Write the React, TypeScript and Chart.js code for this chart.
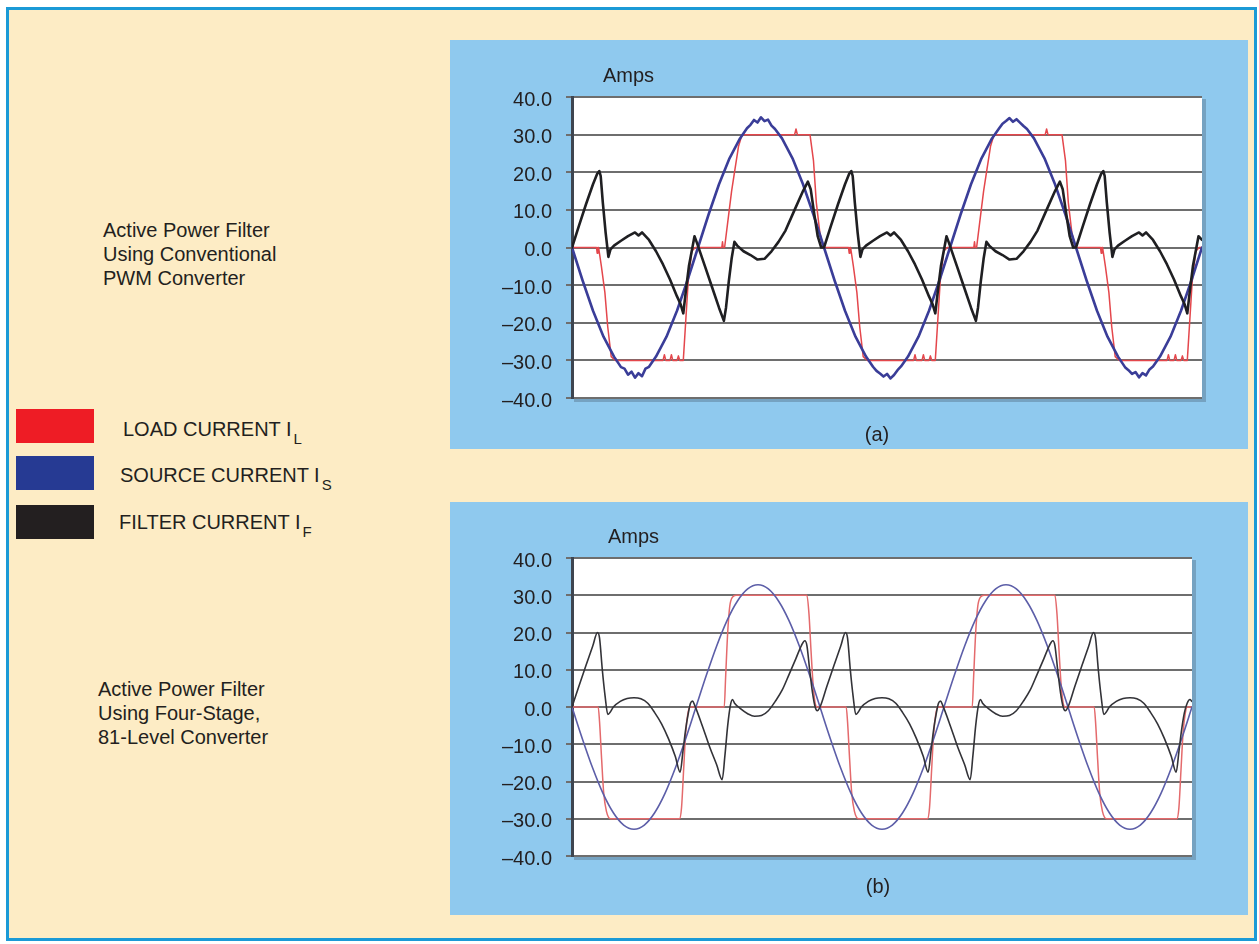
import React, { useEffect, useRef } from "react";
import { Chart, registerables } from "chart.js";

Chart.register(...registerables);

const FONT = '"Liberation Sans", Arial, Helvetica, sans-serif';

// ---------- axis definitions ----------
const yTickValues = [-40, -30, -20, -10, 0, 10, 20, 30, 40];
const xRangeDeg = [0, 900]; // phase angle, 2.5 cycles

type Pt = [number, number];

// ---------- (a) conventional PWM converter : [phase deg, amps] ----------
const aLoad: Pt[] = [
  [0, 0], [35, 0], [36, -1.5], [37, 0], [38, 0], [42, -5], [47, -12], [51, -21], [56, -29], [62, -30],
  [130, -30], [132, -28.5], [134, -30], [140, -30], [142, -28.5], [144, -30], [150, -30], [152, -28.8], [154, -30], [159, -30],
  [162, -21], [166, -9], [171, -1], [176, 0],
  [214, 0], [215, 1.5], [216, 0], [218, 0], [222, 6], [228, 15], [233, 21], [238, 27], [243, 30],
  [318, 30], [320, 31.5], [322, 30], [340, 30], [345, 23], [349, 12], [354, 4], [359, 0],
  [395, 0], [396, -1.5], [397, 0], [398, 0], [402, -5], [407, -12], [411, -21], [416, -29], [422, -30],
  [488, -30], [490, -28.5], [492, -30], [500, -30], [502, -28.5], [504, -30], [510, -30], [512, -28.8], [514, -30], [519, -30],
  [522, -21], [526, -9], [531, -1], [536, 0],
  [574, 0], [575, 1.5], [576, 0], [578, 0], [582, 6], [588, 15], [593, 21], [598, 27], [603, 30],
  [676, 30], [678, 31.5], [680, 30], [700, 30], [705, 23], [709, 12], [714, 4], [719, 0],
  [755, 0], [756, -1.5], [757, 0], [758, 0], [762, -5], [767, -12], [771, -21], [776, -29], [782, -30],
  [850, -30], [852, -28.5], [854, -30], [860, -30], [862, -28.5], [864, -30], [870, -30], [872, -28.8], [874, -30], [879, -30],
  [882, -21], [886, -9], [891, -1], [896, 0], [900, 0],
];

const aSource: Pt[] = [
  [0, 0], [15, -8.7], [30, -16.8], [45, -23.7], [60, -29.0], [70, -31.8], [75, -32.2], [80, -33.8], [85, -33.0], [90, -34.6],
  [95, -33.4], [100, -34.2], [105, -32.2], [110, -31.7], [120, -29.0], [135, -23.7], [150, -16.8], [165, -8.7], [180, 0],
  [195, 8.7], [210, 16.8], [225, 23.7], [240, 29.0], [250, 31.7], [255, 32.6], [260, 33.9], [265, 33.2], [270, 34.6],
  [275, 33.6], [280, 34.0], [285, 32.4], [290, 31.5], [300, 29.0], [315, 23.7], [330, 16.8], [345, 8.7],
  [360, 0], [375, -8.7], [390, -16.8], [405, -23.7], [420, -29.0], [430, -31.7], [435, -32.8], [440, -33.5], [445, -34.3],
  [450, -33.6], [455, -34.8], [460, -33.9], [465, -32.6], [470, -31.6], [480, -29.0], [495, -23.7], [510, -16.8], [525, -8.7],
  [540, 0], [555, 8.7], [570, 16.8], [585, 23.7], [600, 29.0], [610, 31.6], [615, 32.9], [620, 33.6], [625, 34.4],
  [630, 33.4], [635, 34.1], [640, 33.2], [645, 32.3], [650, 31.5], [660, 29.0], [675, 23.7], [690, 16.8], [705, 8.7],
  [720, 0], [735, -8.7], [750, -16.8], [765, -23.7], [780, -29.0], [790, -31.8], [795, -32.6], [800, -33.6], [805, -33.1],
  [810, -34.5], [815, -33.4], [820, -34.0], [825, -32.4], [830, -31.6], [840, -29.0], [855, -23.7], [870, -16.8], [885, -8.7],
  [900, 0],
];

const aFilter: Pt[] = [
  [0, 0], [10, 5.8], [20, 11.5], [30, 16.8], [36, 19.6], [39, 20.3], [41, 19], [44, 12], [48, 4], [52, -2.5], [55, -0.5],
  [60, 0.5], [70, 1.8], [80, 3], [90, 4], [95, 3.2], [100, 4], [110, 2], [120, -1], [130, -4.5], [140, -8.5], [150, -13],
  [155, -15], [159, -17.5], [163, -11], [167, -5], [171, -1], [175, 3], [178, 1.5], [190, -5], [200, -10.5], [210, -16],
  [217, -19.5], [220, -16], [224, -9], [228, -3], [232, 1.5], [236, 0.5], [245, -1], [255, -2], [265, -3.2], [275, -3],
  [285, -1], [295, 1.5], [305, 4.5], [318, 10], [330, 15], [337, 17.5], [341, 15.5], [346, 9], [351, 3], [356, 0],
  [360, 0], [370, 5.8], [380, 11.5], [390, 16.8], [396, 19.6], [399, 20.3], [401, 19], [404, 12], [408, 4], [412, -2.5], [415, -0.5],
  [420, 0.5], [430, 1.8], [440, 3], [450, 4], [455, 3.2], [460, 4], [470, 2], [480, -1], [490, -4.5], [500, -8.5], [510, -13],
  [515, -15], [519, -17.5], [523, -11], [527, -5], [531, -1], [535, 3], [538, 1.5], [550, -5], [560, -10.5], [570, -16],
  [577, -19.5], [580, -16], [584, -9], [588, -3], [592, 1.5], [596, 0.5], [605, -1], [615, -2], [625, -3.2], [635, -3],
  [645, -1], [655, 1.5], [665, 4.5], [678, 10], [690, 15], [697, 17.5], [701, 15.5], [706, 9], [711, 3], [716, 0],
  [720, 0], [730, 5.8], [740, 11.5], [750, 16.8], [756, 19.6], [759, 20.3], [761, 19], [764, 12], [768, 4], [772, -2.5], [775, -0.5],
  [780, 0.5], [790, 1.8], [800, 3], [810, 4], [815, 3.2], [820, 4], [830, 2], [840, -1], [850, -4.5], [860, -8.5], [870, -13],
  [875, -15], [879, -17.5], [883, -11], [887, -5], [891, -1], [895, 3], [900, 2],
];

// ---------- (b) four-stage 81-level converter : [phase deg, amps] ----------
const bLoad: Pt[] = [
  [0, 0], [38, 0], [40, -4], [43, -14], [46, -23], [50, -28], [56, -30],
  [156, -30], [159, -27], [162, -17], [165, -7], [168, -2], [171, 0],
  [221, 0], [223, 8], [226, 20], [229, 27], [233, 29.5], [238, 30],
  [341, 30], [344, 25], [347, 15], [350, 6], [353, 1], [356, 0],
  [398, 0], [400, -4], [403, -14], [406, -23], [410, -28], [416, -30],
  [516, -30], [519, -27], [522, -17], [525, -7], [528, -2], [531, 0],
  [581, 0], [583, 8], [586, 20], [589, 27], [593, 29.5], [598, 30],
  [701, 30], [704, 25], [707, 15], [710, 6], [713, 1], [716, 0],
  [758, 0], [760, -4], [763, -14], [766, -23], [770, -28], [776, -30],
  [878, -30], [881, -27], [884, -17], [887, -7], [890, -2], [893, 0], [900, 0],
];

const bSource: Pt[] = [
  [0, 0], [15, -8.5], [30, -16.4], [45, -23.2], [60, -28.4], [75, -31.7], [90, -32.8], [105, -31.7], [120, -28.4],
  [135, -23.2], [150, -16.4], [165, -8.5], [180, 0], [195, 8.5], [210, 16.4], [225, 23.2], [240, 28.4], [255, 31.7],
  [270, 32.8], [285, 31.7], [300, 28.4], [315, 23.2], [330, 16.4], [345, 8.5],
  [360, 0], [375, -8.5], [390, -16.4], [405, -23.2], [420, -28.4], [435, -31.7], [450, -32.8], [465, -31.7], [480, -28.4],
  [495, -23.2], [510, -16.4], [525, -8.5], [540, 0], [555, 8.5], [570, 16.4], [585, 23.2], [600, 28.4], [615, 31.7],
  [630, 32.8], [645, 31.7], [660, 28.4], [675, 23.2], [690, 16.4], [705, 8.5],
  [720, 0], [735, -8.5], [750, -16.4], [765, -23.2], [780, -28.4], [795, -31.7], [810, -32.8], [825, -31.7], [840, -28.4],
  [855, -23.2], [870, -16.4], [885, -8.5], [900, 0],
];

const bFilter: Pt[] = [
  [0, 0], [10, 5.6], [20, 11], [30, 16.3], [37, 20], [40, 18.5], [44, 10], [48, 3], [52, -2], [55, -1.5], [60, 0],
  [70, 1.5], [80, 2.3], [90, 2.5], [100, 2.2], [110, 1], [120, -1.5], [130, -4.5], [140, -8.5], [150, -13.3], [157, -17.5],
  [161, -12], [165, -6], [169, -1.5], [172, 1], [175, 1.6], [178, 0.5], [190, -5.5], [200, -10.8], [210, -15.5], [218, -19.5],
  [222, -13], [226, -5], [230, 0.5], [233, 2], [236, 1], [245, -0.5], [255, -1.8], [265, -2.5], [275, -2.3], [285, -1],
  [295, 1.5], [305, 4.5], [315, 8.7], [325, 13], [333, 16.5], [338, 17.8], [341, 16.5], [345, 10], [349, 4], [353, 0], [356, -1],
  [360, 0], [370, 5.6], [380, 11], [390, 16.3], [397, 20], [400, 18.5], [404, 10], [408, 3], [412, -2], [415, -1.5], [420, 0],
  [430, 1.5], [440, 2.3], [450, 2.5], [460, 2.2], [470, 1], [480, -1.5], [490, -4.5], [500, -8.5], [510, -13.3], [517, -17.5],
  [521, -12], [525, -6], [529, -1.5], [532, 1], [535, 1.6], [538, 0.5], [550, -5.5], [560, -10.8], [570, -15.5], [578, -19.5],
  [582, -13], [586, -5], [590, 0.5], [593, 2], [596, 1], [605, -0.5], [615, -1.8], [625, -2.5], [635, -2.3], [645, -1],
  [655, 1.5], [665, 4.5], [675, 8.7], [685, 13], [693, 16.5], [698, 17.8], [701, 16.5], [705, 10], [709, 4], [713, 0], [716, -1],
  [720, 0], [730, 5.6], [740, 11], [750, 16.3], [757, 20], [760, 18.5], [764, 10], [768, 3], [772, -2], [775, -1.5], [780, 0],
  [790, 1.5], [800, 2.3], [810, 2.5], [820, 2.2], [830, 1], [840, -1.5], [850, -4.5], [860, -8.5], [870, -13.3], [877, -17.5],
  [881, -12], [885, -6], [889, -1.5], [893, 1], [897, 2], [900, 1.5],
];

// ---------- helpers ----------
function toXY(pts: Pt[]) {
  return pts.map(([x, y]) => ({ x, y }));
}

function fmtTick(v: number) {
  const s = Math.abs(v).toFixed(1);
  return v < 0 ? "\u2013" + s : s;
}

const plotFrame = {
  id: "plotFrame",
  beforeDraw(chart: any) {
    const { ctx, chartArea: a } = chart;
    ctx.save();
    ctx.fillStyle = "rgba(70,90,110,0.35)";
    ctx.fillRect(a.left + 2, a.top + 2, a.right - a.left + 2, a.bottom - a.top + 2);
    ctx.fillStyle = "#ffffff";
    ctx.fillRect(a.left, a.top, a.right - a.left, a.bottom - a.top);
    ctx.restore();
  },
};

type Series = { pts: Pt[]; color: string; width: number; order: number };

function WaveChart(props: {
  width: number;
  height: number;
  pad: { top: number; right: number; bottom: number };
  axisWidth: number;
  series: Series[];
  smooth: boolean;
}) {
  const ref = useRef<HTMLCanvasElement | null>(null);
  useEffect(() => {
    if (!ref.current) return;
    const chart = new Chart(ref.current, {
      type: "line",
      data: {
        datasets: props.series.map((s) => ({
          data: toXY(s.pts),
          borderColor: s.color,
          borderWidth: s.width,
          pointRadius: 0,
          fill: false,
          order: s.order,
          tension: 0,
          cubicInterpolationMode: props.smooth ? "monotone" : "default",
        })),
      },
      options: {
        animation: false,
        responsive: false,
        devicePixelRatio: 1,
        parsing: false as any,
        layout: { padding: { left: 0, top: props.pad.top, right: props.pad.right, bottom: props.pad.bottom } },
        plugins: { legend: { display: false }, tooltip: { enabled: false }, title: { display: false } },
        elements: { line: { borderJoinStyle: "round", borderCapStyle: "round" } },
        scales: {
          x: { type: "linear", min: xRangeDeg[0], max: xRangeDeg[1], display: false },
          y: {
            type: "linear",
            min: -40,
            max: 40,
            afterFit: (scale: any) => {
              scale.width = props.axisWidth;
            },
            afterBuildTicks: (scale: any) => {
              scale.ticks = yTickValues.map((v) => ({ value: v }));
            },
            ticks: {
              callback: (v: any) => fmtTick(Number(v)),
              color: "#231f20",
              font: { family: FONT, size: 20 },
              padding: 14,
              labelOffset: 3,
            },
            grid: { color: "#6e6e6e", lineWidth: 2, tickLength: 6, drawTicks: true },
            border: { display: true, color: "#3e4550", width: 3 },
          },
        },
      } as any,
      plugins: [plotFrame],
    });
    return () => chart.destroy();
  }, []);
  return (
    <canvas
      ref={ref}
      width={props.width}
      height={props.height}
      style={{ width: props.width, height: props.height, display: "block" }}
    />
  );
}

function Txt(props: { x: number; base: number; size?: number; center?: boolean; children: React.ReactNode }) {
  const size = props.size ?? 20;
  return (
    <div
      style={{
        position: "absolute",
        left: props.x,
        top: props.base - size * 0.8465,
        fontFamily: FONT,
        fontSize: size,
        lineHeight: `${size}px`,
        color: "#231f20",
        whiteSpace: "nowrap",
        transform: props.center ? "translateX(-50%)" : undefined,
      }}
    >
      {props.children}
    </div>
  );
}

function LegendLabel(props: { x: number; base: number; text: string; sub: string }) {
  return (
    <div
      style={{
        position: "absolute",
        left: props.x,
        top: props.base - 20 * 0.8465,
        fontFamily: FONT,
        fontSize: 20,
        lineHeight: "20px",
        color: "#231f20",
        whiteSpace: "nowrap",
      }}
    >
      {props.text}
      <span style={{ fontSize: 15, position: "relative", top: 8, marginLeft: 2 }}>{props.sub}</span>
    </div>
  );
}

const PANEL_BLUE = "#8fc9ee";

export default function App() {
  return (
    <div style={{ position: "absolute", left: 0, top: 0, width: 1259, height: 944, background: "#ffffff", overflow: "hidden" }}>
      <div
        style={{
          position: "absolute",
          left: 6,
          top: 7,
          width: 1251,
          height: 934,
          boxSizing: "border-box",
          border: "3px solid #1b9ad6",
          background: "#fdecc5",
        }}
      />
      {/* panel (a) */}
      <div style={{ position: "absolute", left: 450, top: 40, width: 798, height: 409, background: PANEL_BLUE }}>
        <WaveChart
          width={798}
          height={409}
          pad={{ top: 57, right: 46, bottom: 51 }}
          axisWidth={122}
          smooth={false}
          series={[
            { pts: aLoad, color: "#e4474c", width: 1.5, order: 2 },
            { pts: aSource, color: "#3a3d98", width: 2.6, order: 1 },
            { pts: aFilter, color: "#1f1f22", width: 2.6, order: 0 },
          ]}
        />
      </div>
      {/* panel (b) */}
      <div style={{ position: "absolute", left: 450, top: 502, width: 798, height: 413, background: PANEL_BLUE }}>
        <WaveChart
          width={798}
          height={413}
          pad={{ top: 56, right: 56, bottom: 59 }}
          axisWidth={122}
          smooth={true}
          series={[
            { pts: bLoad, color: "#e46a6c", width: 1.5, order: 2 },
            { pts: bSource, color: "#5c5ea8", width: 1.6, order: 1 },
            { pts: bFilter, color: "#333338", width: 1.6, order: 0 },
          ]}
        />
      </div>

      <Txt x={603} base={81.5}>Amps</Txt>
      <Txt x={877} base={441} center>(a)</Txt>
      <Txt x={608} base={542.5}>Amps</Txt>
      <Txt x={878} base={893} center>(b)</Txt>

      <Txt x={103} base={237}>Active Power Filter</Txt>
      <Txt x={103} base={261}>Using Conventional</Txt>
      <Txt x={103} base={285}>PWM Converter</Txt>

      <Txt x={98} base={696}>Active Power Filter</Txt>
      <Txt x={98} base={720}>Using Four-Stage,</Txt>
      <Txt x={98} base={744}>81-Level Converter</Txt>

      <div style={{ position: "absolute", left: 16, top: 409, width: 78, height: 34, background: "#ee1c25" }} />
      <div style={{ position: "absolute", left: 16, top: 456, width: 78, height: 34, background: "#263a93" }} />
      <div style={{ position: "absolute", left: 16, top: 505, width: 78, height: 34, background: "#231f20" }} />

      <LegendLabel x={123} base={436} text="LOAD CURRENT I" sub="L" />
      <LegendLabel x={120} base={482} text="SOURCE CURRENT I" sub="S" />
      <LegendLabel x={119} base={529} text="FILTER CURRENT I" sub="F" />
    </div>
  );
}
